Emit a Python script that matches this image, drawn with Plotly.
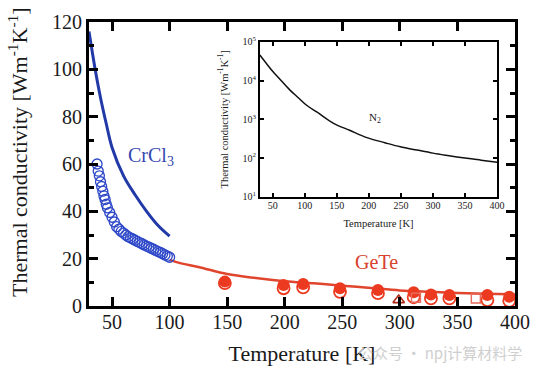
import plotly.graph_objects as go
import math

# CrCl3 model curve
crcl3_line_T = [30, 35, 40, 45, 50, 60, 70, 80, 90, 100]
crcl3_line_k = [116, 101, 88, 77, 67, 55, 47, 40, 34, 29.5]

# CrCl3 measured (open circles)
crcl3_pts_T = [37, 38, 39, 40, 41, 42, 43, 44, 45, 46, 48, 50, 52, 54, 56, 58, 60, 62, 64, 66,
               68, 70, 72, 74, 76, 78, 80, 82, 84, 86, 88, 90, 92, 94, 96, 98, 100]
crcl3_pts_k = [60, 57, 55, 52.5, 50.5, 48.5, 46.5, 45, 43, 41.5, 39.5, 37.5, 35.5, 33.5, 32.5,
               31.5, 30.8, 30, 29.3, 28.8, 28.3, 27.8, 27.3, 26.8, 26.3, 25.8, 25.3, 24.9, 24.4,
               24, 23.5, 23, 22.6, 22.1, 21.6, 21.1, 20.6]

# GeTe model curve
gete_line_T = [100, 110, 125, 150, 175, 200, 225, 250, 275, 300, 325, 350, 375, 400]
gete_line_k = [19.5, 18, 16.5, 13.5, 11.8, 10.5, 9.6, 8.6, 7.6, 6.6, 6.0, 5.5, 5.2, 4.9]

# GeTe data: filled circles and open circles
gete_fill_T = [148, 199, 216, 248, 281, 312, 327, 343, 376, 395]
gete_fill_k = [10.3, 8.9, 9.3, 7.5, 6.8, 5.8, 4.9, 4.6, 4.6, 3.9]
gete_open_T = [148, 199, 216, 248, 281, 312, 327, 343, 376, 395]
gete_open_k = [9.7, 7.5, 7.9, 6.0, 5.4, 3.7, 3.2, 3.2, 2.5, 2.2]
gete_tri_T = [299]
gete_tri_k = [2.5]
gete_sq_T = [314, 366]
gete_sq_k = [3.5, 3.2]

# Inset N2
n2_T = [30, 40, 50, 60, 77, 90, 103, 120, 145, 170, 197, 225, 249, 275, 300, 325, 353, 375, 400]
n2_k = [45700, 28200, 17400, 11500, 5690, 3630, 2320, 1510, 794, 525, 339, 251, 197, 162, 135,
        116, 99, 89, 79]

main_xticks = [50, 100, 150, 200, 250, 300, 350, 400]
inset_yticks = [10, 100, 1000, 10000, 100000]
inset_yticktext = ["10<sup>1</sup>", "10<sup>2</sup>", "10<sup>3</sup>", "10<sup>4</sup>", "10<sup>5</sup>"]

BLUE_LINE = "#2239a8"
BLUE_PT = "#2e48c8"
RED = "#ec3a20"
RED_LINE = "#e0452e"
SERIF = "Times New Roman, Liberation Serif, DejaVu Serif, serif"
INK = "#1a1a1a"

fig = go.Figure()

fig.add_trace(go.Scatter(x=crcl3_line_T, y=crcl3_line_k, mode="lines",
                         line=dict(color=BLUE_LINE, width=3, shape="spline"), xaxis="x", yaxis="y"))
fig.add_trace(go.Scatter(x=gete_line_T, y=gete_line_k, mode="lines",
                         line=dict(color=RED_LINE, width=2.5, shape="spline"), xaxis="x", yaxis="y"))
fig.add_trace(go.Scatter(x=crcl3_pts_T, y=crcl3_pts_k, mode="markers",
                         marker=dict(symbol="circle-open", size=10, color=BLUE_PT, line=dict(width=1.3)),
                         xaxis="x", yaxis="y"))
fig.add_trace(go.Scatter(x=gete_open_T, y=gete_open_k, mode="markers",
                         marker=dict(symbol="circle", size=12, color="white", line=dict(width=1.8, color=RED)),
                         xaxis="x", yaxis="y"))
fig.add_trace(go.Scatter(x=gete_fill_T, y=gete_fill_k, mode="markers",
                         marker=dict(symbol="circle", size=12, color=RED, line=dict(width=0)),
                         xaxis="x", yaxis="y"))
fig.add_trace(go.Scatter(x=gete_tri_T, y=gete_tri_k, mode="markers",
                         marker=dict(symbol="triangle-up-open", size=10, color="#b02a1a", line=dict(width=1.6)),
                         xaxis="x", yaxis="y"))
fig.add_trace(go.Scatter(x=gete_sq_T, y=gete_sq_k, mode="markers",
                         marker=dict(symbol="square-open", size=9, color="#e86a5a", line=dict(width=1.4)),
                         xaxis="x", yaxis="y"))

fig.add_trace(go.Scatter(x=n2_T, y=n2_k, mode="lines",
                         line=dict(color="#111111", width=1.5, shape="spline"), xaxis="x2", yaxis="y2"))

fig.update_layout(
    width=541, height=372,
    margin=dict(l=89, r=26, t=22, b=66, autoexpand=False),
    paper_bgcolor="white", plot_bgcolor="white",
    showlegend=False,
    font=dict(family=SERIF, color=INK, size=20),
    xaxis=dict(
        domain=[0, 1], anchor="y", range=[30, 400], automargin=False,
        tickvals=main_xticks, ticks="inside", ticklen=9, tickwidth=3, tickcolor="black",
        showline=True, linewidth=3, linecolor="black", mirror="ticks",
        showgrid=False, zeroline=False, ticklabelstandoff=-4,
        tickfont=dict(family=SERIF, size=20, color=INK),
        title=dict(text="Temperature [K]", font=dict(family=SERIF, size=22, color=INK), standoff=14),
    ),
    yaxis=dict(
        domain=[0, 1], anchor="x", range=[0, 120], automargin=False,
        dtick=20, tick0=0, ticks="inside", ticklen=9, tickwidth=3, tickcolor="black",
        minor=dict(dtick=10, tick0=0, ticks="inside", ticklen=5, tickwidth=3, tickcolor="black", showgrid=False),
        showline=True, linewidth=3, linecolor="black", mirror="ticks",
        showgrid=False, zeroline=False,
        tickfont=dict(family=SERIF, size=20, color=INK),
    ),
    xaxis2=dict(
        domain=[0.401, 0.958], anchor="y2", range=[30, 400], automargin=False,
        tickvals=main_xticks, ticks="inside", ticklen=4, tickwidth=1.5, tickcolor="black",
        showline=True, linewidth=1.5, linecolor="black", mirror="ticks",
        showgrid=False, zeroline=False, ticklabelstandoff=-2,
        tickfont=dict(family=SERIF, size=10, color=INK),
        title=dict(text="Temperature [K]", font=dict(family=SERIF, size=10.5, color=INK), standoff=10),
    ),
    yaxis2=dict(
        domain=[0.384, 0.930], anchor="x2", type="log", range=[1, 5], automargin=False,
        tickvals=inset_yticks, ticktext=inset_yticktext,
        ticks="inside", ticklen=4, tickwidth=1.5, tickcolor="black",
        showline=True, linewidth=1.5, linecolor="black", mirror="ticks",
        showgrid=False, zeroline=False,
        tickfont=dict(family=SERIF, size=10, color=INK),
        title=dict(text="Thermal conductivity [Wm<sup>-1</sup>K<sup>-1</sup>]",
                   font=dict(family=SERIF, size=10.5, color=INK), standoff=12),
    ),
    annotations=[
        dict(x=(18 - 89) / 426, y=(306 - 152) / 284, xref="paper", yref="paper",
             xanchor="center", yanchor="middle", textangle=-90,
             text="Thermal conductivity [Wm<sup>-1</sup>K<sup>-1</sup>]", showarrow=False,
             font=dict(family=SERIF, size=22, color=INK)),
        dict(x=84, y=63, xref="x", yref="y", text="CrCl<sub>3</sub>", showarrow=False,
             font=dict(family=SERIF, size=20, color="#3548b0")),
        dict(x=280, y=18.5, xref="x", yref="y", text="GeTe", showarrow=False,
             font=dict(family=SERIF, size=20, color="#d8412e")),
        dict(x=210, y=math.log10(1100), xref="x2", yref="y2", text="N<sub>2</sub>", showarrow=False,
             font=dict(family=SERIF, size=11, color=INK)),
        dict(x=(440 - 89) / 426, y=(306 - 352) / 284, xref="paper", yref="paper",
             xanchor="center", yanchor="middle",
             text="公众号 · npj计算材料学", showarrow=False,
             font=dict(family="Noto Sans CJK SC", size=15, color="#cfcfcf")),
    ],
)

fig.write_html("out.html", config={"displayModeBar": False},
               post_script="document.body.style.margin='0';")
